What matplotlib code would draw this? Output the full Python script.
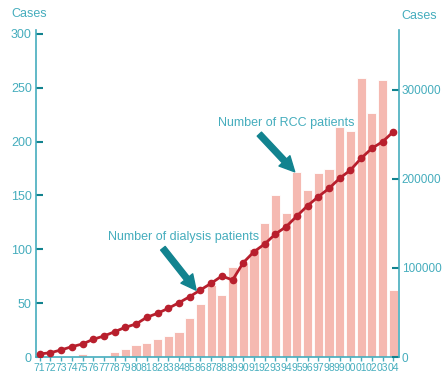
import matplotlib
matplotlib.use("Agg")
import matplotlib.pyplot as plt
import numpy as np

plt.rcParams['font.family'] = ['Liberation Sans', 'DejaVu Sans']

# years 1971 - 2004
years = ['71', '72', '73', '74', '75', '76', '77', '78', '79', '80',
         '81', '82', '83', '84', '85', '86', '87', '88', '89', '90',
         '91', '92', '93', '94', '95', '96', '97', '98', '99', '00',
         '01', '02', '03', '04']

# RCC patients (left axis, bars)
rcc_cases = [0, 0, 0, 0, 3, 0, 0, 5, 7, 11,
             13, 16.5, 19.5, 23, 36.5, 49, 67, 57.5, 84, 87,
             100, 124, 150.5, 133.5, 172, 155, 171, 175, 214, 210,
             259, 227, 257, 62]

# dialysis patients (right axis, line)
dialysis_cases = [3400, 4800, 7900, 11600, 14600, 19900, 23600, 28400, 33400, 37100,
                  44600, 49100, 54700, 61000, 67800, 75300, 82800, 91000, 86500, 106000,
                  118300, 127000, 138200, 146400, 158400, 170000, 180100, 189500, 200800, 210100,
                  223300, 234500, 241900, 253100]

teal = '#45adbd'
arrow_col = '#12838f'
bar_col = '#f5b9b1'
line_col = '#b81f2d'

fig = plt.figure(figsize=(4.42, 3.75), dpi=100)
ax = fig.add_axes([36 / 442, 18 / 375, 363 / 442, 327 / 375])
ax2 = ax.twinx()

x = np.arange(len(years))
ax.bar(x, rcc_cases, width=0.86, color=bar_col, edgecolor='white', linewidth=0.6)
ax2.plot(x, dialysis_cases, color=line_col, lw=2, marker='o', markersize=4.5)

ax.set_xlim(-0.34, 33.53)
ax.set_ylim(0, 303.7)
ax2.set_ylim(0, 367400)

ax.set_xticks(x)
ax.set_xticklabels(years)
ax.set_yticks([0, 50, 100, 150, 200, 250, 300])
ax2.set_yticks([0, 100000, 200000, 300000])

for a in (ax, ax2):
    for s in a.spines.values():
        s.set_color(teal)
        s.set_linewidth(1.2)
    a.spines['top'].set_visible(False)
ax.spines['right'].set_visible(False)
ax2.spines['left'].set_visible(False)
ax2.spines['bottom'].set_visible(False)

ax.tick_params(axis='y', direction='in', length=5, width=1.5, color=arrow_col,
               labelcolor=teal, labelsize=9, pad=3)
ax.tick_params(axis='x', direction='out', length=3, width=1, color=teal,
               labelcolor=teal, labelsize=7.5, pad=1)
ax2.tick_params(axis='y', direction='in', length=5, width=1.5, color=arrow_col,
                labelcolor=teal, labelsize=8.5, pad=2)

fig.text(29 / 442, 1 - 14 / 375, 'Cases', color=teal, fontsize=9, ha='center', va='center')
fig.text(419 / 442, 1 - 16 / 375, 'Cases', color=teal, fontsize=9, ha='center', va='center')

# annotations
ax2.text(6.4, 111.5, 'Number of dialysis patients', transform=ax.transData,
         color=teal, fontsize=9, ha='left', va='center')
ax2.annotate('', xy=(14.6, 62), xytext=(11.5, 101), xycoords=ax.transData,
             textcoords=ax.transData,
             arrowprops=dict(arrowstyle='simple,head_length=0.9,head_width=0.9,tail_width=0.35',
                             color=arrow_col, mutation_scale=12, shrinkA=0, shrinkB=0))
ax2.text(16.64, 217.3, 'Number of RCC patients', transform=ax.transData,
         color=teal, fontsize=9, ha='left', va='center')
ax2.annotate('', xy=(23.8, 172), xytext=(20.5, 207), xycoords=ax.transData,
             textcoords=ax.transData,
             arrowprops=dict(arrowstyle='simple,head_length=0.9,head_width=0.9,tail_width=0.35',
                             color=arrow_col, mutation_scale=12, shrinkA=0, shrinkB=0))

fig.savefig('out.png', dpi=100)
